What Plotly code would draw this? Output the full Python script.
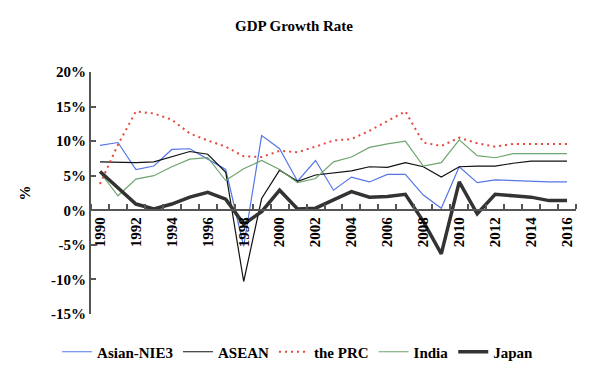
import plotly.graph_objects as go

years = list(range(1990, 2017))
nie3 = [9.4, 9.8, 5.9, 6.4, 8.8, 8.9, 7.4, 5.9, -5.2, 10.8, 8.9, 4.2, 7.2, 2.9, 4.8, 4.1, 5.2, 5.2, 2.2, 0.3, 6.3, 4.0, 4.4, 4.3, 4.1, 4.1, 4.1]
asean = [7.0, 6.9, 6.9, 7.0, 7.8, 8.5, 8.1, 5.5, -10.3, 1.7, 5.8, 4.2, 5.1, 5.4, 5.7, 6.3, 6.2, 6.9, 6.3, 4.8, 6.3, 6.4, 6.4, 6.8, 7.1, 7.1, 7.1]
prc = [3.8, 9.5, 14.3, 14.0, 13.1, 11.1, 10.1, 9.2, 7.8, 7.7, 8.6, 8.4, 9.2, 10.1, 10.3, 11.5, 12.9, 14.3, 9.8, 9.3, 10.5, 9.7, 9.2, 9.6, 9.6, 9.6, 9.6]
india = [5.5, 2.1, 4.5, 5.0, 6.3, 7.4, 7.6, 4.3, 6.0, 7.2, 5.9, 4.0, 4.6, 7.0, 7.7, 9.1, 9.6, 10.0, 6.4, 6.9, 10.2, 7.9, 7.6, 8.2, 8.2, 8.2, 8.2]
japan = [5.6, 3.3, 0.9, 0.2, 0.9, 1.9, 2.6, 1.6, -2.0, -0.2, 2.9, 0.2, 0.3, 1.5, 2.7, 1.9, 2.0, 2.3, -1.6, -6.3, 4.1, -0.5, 2.3, 2.1, 1.9, 1.4, 1.4]

x_labels = [str(y) for y in years[::2]]
y_ticks = [-15, -10, -5, 0, 5, 10, 15, 20]
y_labels = [f"{v}%" for v in y_ticks]

FONT = "Liberation Serif"
W, H = 582, 361

fig = go.Figure()
fig.add_trace(go.Scatter(x=years, y=nie3, name="Asian-NIE3", mode="lines",
                         line=dict(color="#5577E6", width=1.2)))
fig.add_trace(go.Scatter(x=years, y=asean, name="ASEAN", mode="lines",
                         line=dict(color="#111111", width=1.2)))
fig.add_trace(go.Scatter(x=years, y=prc, name="the PRC", mode="lines",
                         line=dict(color="#E5473C", width=2, dash="2px,4px")))
fig.add_trace(go.Scatter(x=years, y=india, name="India", mode="lines",
                         line=dict(color="#6FA56F", width=1.2)))
fig.add_trace(go.Scatter(x=years, y=japan, name="Japan", mode="lines",
                         line=dict(color="#333333", width=3.5)))

fig.update_layout(
    width=W, height=H,
    margin=dict(l=83, r=14, t=64, b=55, autoexpand=False),
    paper_bgcolor="white", plot_bgcolor="white",
    font=dict(family=FONT, size=15, color="black", weight="bold"),
    title=dict(text="GDP Growth Rate", x=286 / W, xref="container", xanchor="center",
               y=1 - 18 / H, yref="container", yanchor="middle",
               font=dict(family=FONT, size=15, color="black", weight="bold")),
    showlegend=True,
    legend=dict(orientation="h", x=0.426, xanchor="center", y=-0.157, yanchor="middle",
                font=dict(family=FONT, size=15, color="black", weight="bold"),
                bgcolor="rgba(0,0,0,0)", traceorder="normal"),
    xaxis=dict(
        range=[1989.5, 2016.5], tickmode="array", tickvals=years[::2], ticktext=x_labels,
        tickangle=-90, ticks="", showgrid=False, zeroline=False,
        showline=True, linecolor="#555555", linewidth=2,
        anchor="free", position=15 / 35, automargin=False,
        tickfont=dict(family=FONT, size=15, color="black", weight="bold"),
        minor=dict(tickmode="linear", tick0=1989.5, dtick=1, ticks="inside",
                   ticklen=5, tickcolor="#555555", tickwidth=1.5, showgrid=False),
    ),
    yaxis=dict(
        range=[-15, 20], tickmode="array", tickvals=y_ticks, ticktext=y_labels,
        ticks="inside", ticklen=5, tickcolor="#555555", tickwidth=1.5, automargin=False,
        showgrid=False, zeroline=False, showline=True, linecolor="#555555", linewidth=2,
        tickfont=dict(family=FONT, size=15, color="black", weight="bold"),
        title=dict(text="%", standoff=17, font=dict(family=FONT, size=15, color="black", weight="bold")),
    ),
)

fig.write_html("out.html")
